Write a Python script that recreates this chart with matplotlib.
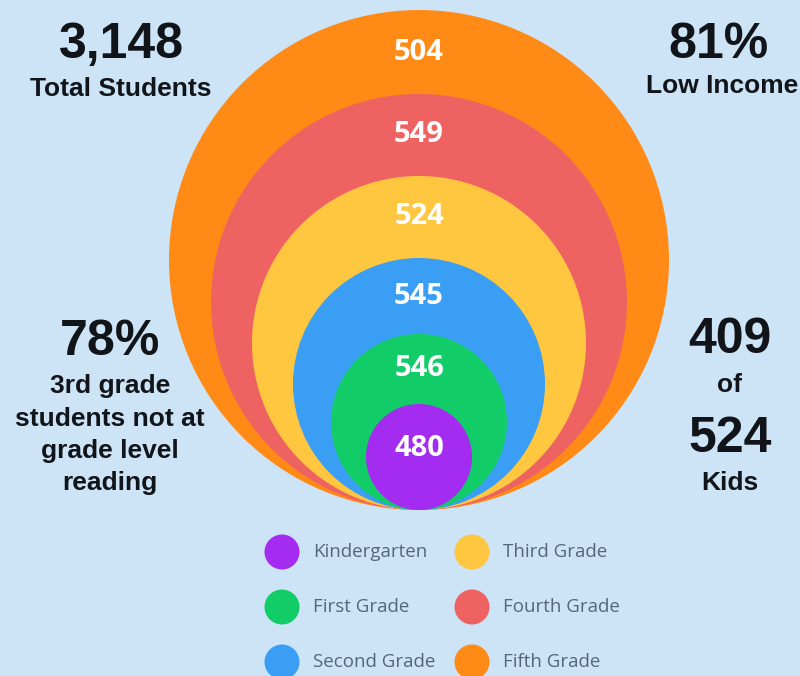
import matplotlib.pyplot as plt
from matplotlib.patches import Circle

# grades from inner to outer circle
grades = ['Kindergarten', 'First Grade', 'Second Grade', 'Third Grade', 'Fourth Grade', 'Fifth Grade']
students = [480, 546, 545, 524, 549, 504]
colors = ['#a42cf0', '#12cc68', '#3a9ef4', '#ffc640', '#ef6262', '#ff8a16']

# side stats
total_students = '3,148'
low_income = '81%'
not_reading = '78%'
reading_lines = ['3rd grade', 'students not at', 'grade level', 'reading']
kids_num, kids_of = '409', '524'

# layout (pixels)
radii = [53, 88, 126, 167, 208, 250]
cx, base_y = 419, 510
bg = '#cde4f6'
dark = '#111418'

plt.rcParams['font.family'] = ['Liberation Sans', 'DejaVu Sans']

fig = plt.figure(figsize=(8, 6.76), dpi=100, facecolor=bg)
ax = fig.add_axes([0, 0, 1, 1])
ax.set_facecolor(bg)
ax.set_xlim(0, 800)
ax.set_ylim(676, 0)
ax.set_aspect('equal')
ax.axis('off')

# big nested circles, outer first
for i in range(len(grades) - 1, -1, -1):
    r = radii[i]
    ax.add_patch(Circle((cx, base_y - r), r, color=colors[i], lw=0, zorder=2))
    top = base_y - 2 * r
    if i > 0:
        ty = (top + base_y - 2 * radii[i - 1]) / 2
    else:
        ty = base_y - r - 8
    ax.text(cx, ty, str(students[i]), color='white', fontsize=21, fontweight='bold',
            family=['Open Sans', 'DejaVu Sans'], ha='center', va='center', zorder=3)

big = dict(fontsize=36, fontweight='bold', color=dark, ha='center', va='baseline')
small = dict(fontsize=19, fontweight='bold', color=dark, ha='center', va='baseline')

ax.text(121, 58, total_students, **big)
ax.text(121, 96, 'Total Students', **small)
ax.text(718, 58, low_income, **big)
ax.text(722, 93, 'Low Income', **small)

ax.text(110, 355, not_reading, **big)
for txt, y in zip(reading_lines, [393, 426, 458, 490]):
    ax.text(110, y, txt, **small)

ax.text(730, 353, kids_num, **big)
ax.text(730, 392, 'of', **small)
ax.text(730, 452, kids_of, **big)
ax.text(730, 490, 'Kids', **small)

# legend
leg_x = [282, 472]
leg_y = [552, 607, 662]
for i, g in enumerate(grades):
    x = leg_x[i // 3]
    y = leg_y[i % 3]
    ax.add_patch(Circle((x, y), 17.5, color=colors[i], lw=0, zorder=2))
    ax.text(x + 31, y, g, fontsize=13.5, color='#56667a', family=['Open Sans', 'DejaVu Sans'],
            ha='left', va='center')

fig.savefig('out.png', dpi=100, facecolor=bg)
